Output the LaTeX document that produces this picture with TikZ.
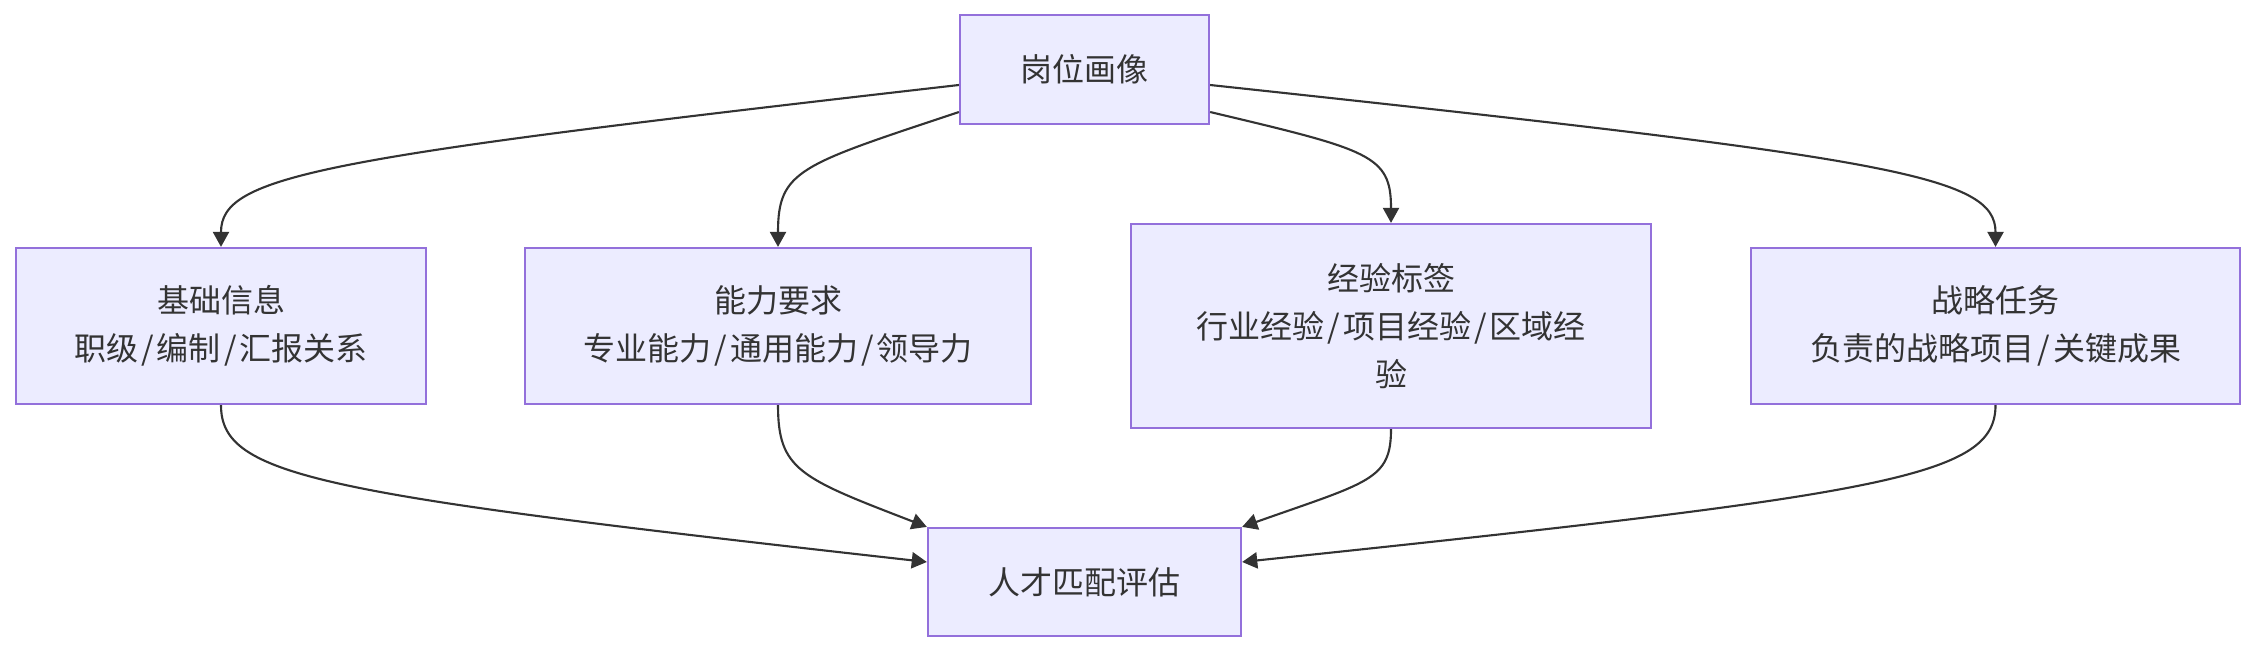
\documentclass[tikz,border=0pt]{standalone}
\usepackage{fontspec}
\setmainfont{Noto Sans CJK SC}
\usepackage{tikz}
\usetikzlibrary{arrows.meta}
\definecolor{NodeFill}{HTML}{ECECFF}
\definecolor{NodeBorder}{HTML}{9370DB}
\definecolor{InkText}{HTML}{333333}
\definecolor{InkLine}{HTML}{333333}
\newcommand{\slsep}{\kern0.032cm/\kern0.032cm}
\tikzset{
  box/.style={rectangle, draw=NodeBorder, fill=NodeFill, line width=0.6pt,
              text=InkText, align=center, inner sep=0pt,
              font=\fontsize{9.1pt}{13.7pt}\selectfont},
  link/.style={draw=InkLine, line width=0.6pt,
               -{Triangle[length=4.3pt, width=4.6pt]}},
}

\begin{document}
\begin{tikzpicture}[x=0.01cm, y=-0.01cm]
\useasboundingbox (0,0) rectangle (2255,652);
% nodes
\node[box, minimum width=2.49cm, minimum height=1.09cm] (profile) at (1084.5,69.5) {岗位画像};
\node[box, minimum width=4.10cm, minimum height=1.56cm] (basic) at (221,326) {基础信息\\职级\slsep 编制\slsep 汇报关系};
\node[box, minimum width=5.06cm, minimum height=1.56cm] (skill) at (778,326) {能力要求\\专业能力\slsep 通用能力\slsep 领导力};
\node[box, minimum width=5.20cm, minimum height=2.04cm] (exper) at (1391,326) {经验标签\\行业经验\slsep 项目经验\slsep 区域经\\验};
\node[box, minimum width=4.89cm, minimum height=1.56cm] (task) at (1995.5,326) {战略任务\\负责的战略项目\slsep 关键成果};
\node[box, minimum width=3.13cm, minimum height=1.08cm] (match) at (1084.5,582) {人才匹配评估};
% top fan-out
\draw[link] ([yshift=-0.155cm]profile.west) .. controls (320,158) and (221,175) .. (basic.north);
\draw[link] ([yshift=-0.425cm]profile.west) .. controls (800,165) and (778,170) .. (skill.north);
\draw[link] ([yshift=-0.425cm]profile.east) .. controls (1370,150) and (1391,155) .. (exper.north);
\draw[link] ([yshift=-0.155cm]profile.east) .. controls (1890,158) and (1995.5,175) .. (task.north);
% bottom fan-in
\draw[link] (basic.south) .. controls (221,477) and (320,494) .. ([yshift=0.2cm]match.west);
\draw[link] (skill.south) .. controls (778,470) and (800,478) .. (match.north west);
\draw[link] (exper.south) .. controls (1391,480) and (1369,482) .. (match.north east);
\draw[link] (task.south) .. controls (1995.5,477) and (1889,494) .. ([yshift=0.2cm]match.east);
\end{tikzpicture}
\end{document}
